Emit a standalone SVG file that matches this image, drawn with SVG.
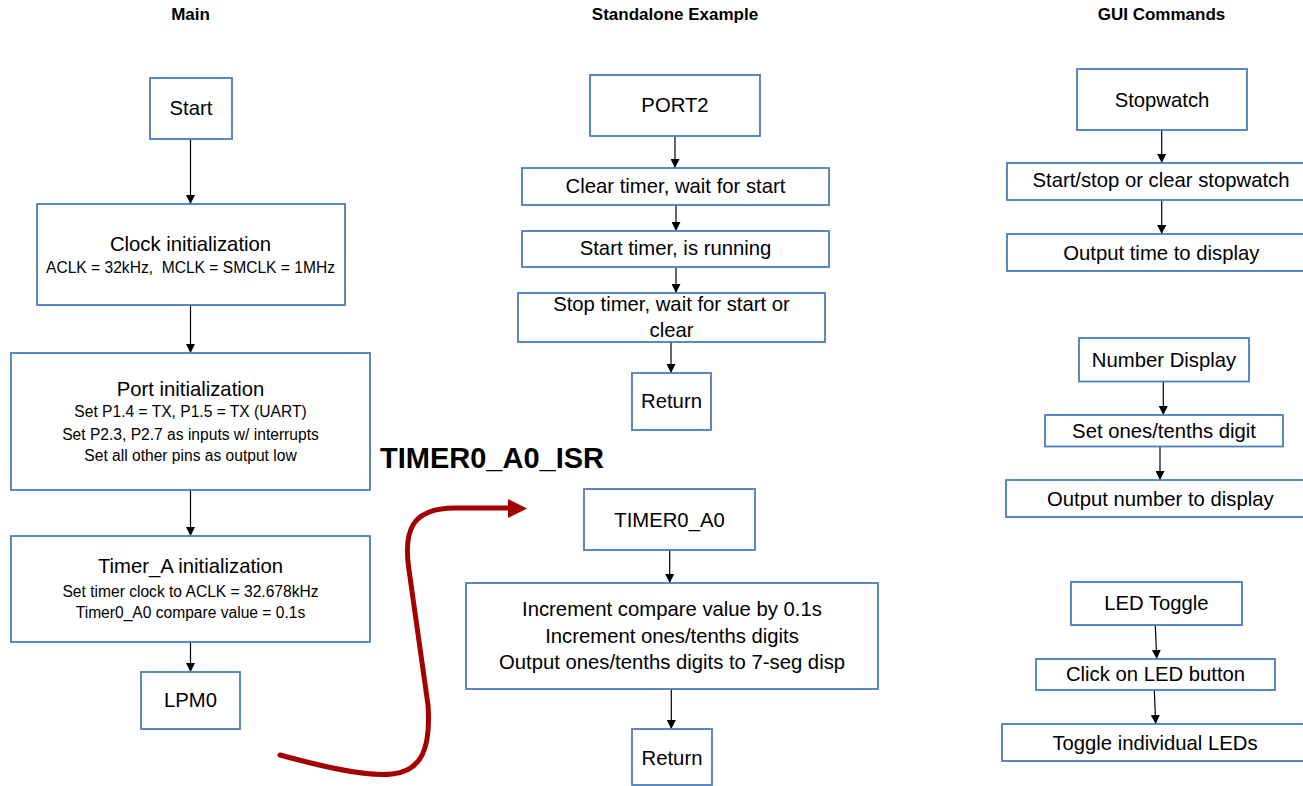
<svg xmlns="http://www.w3.org/2000/svg" width="1303" height="786" viewBox="0 0 1303 786">
<defs>
<style>
.box{fill:#fff;stroke:#4a7ebb;stroke-width:1.8}
.t{font-family:"Liberation Sans",Arial,sans-serif;font-size:20.3px;fill:#000;text-anchor:middle}
.s{font-family:"Liberation Sans",Arial,sans-serif;font-size:15.6px;fill:#000;text-anchor:middle;white-space:pre}
.h{font-family:"Liberation Sans",Arial,sans-serif;font-size:17px;font-weight:bold;fill:#000;text-anchor:middle}
.conn{stroke:#000;stroke-width:1.2;fill:none;marker-end:url(#ah)}
</style>
<marker id="ah" viewBox="0 0 10 10" refX="10" refY="5" markerWidth="9" markerHeight="9" markerUnits="userSpaceOnUse" orient="auto">
<path d="M0,0 L10,5 L0,10 z" fill="#000"/>
</marker>
</defs>
<rect width="1303" height="786" fill="#fff"/>
<text class="h" x="190.5" y="20">Main</text>
<text class="h" x="675" y="20">Standalone Example</text>
<text class="h" x="1161.5" y="20">GUI Commands</text>
<text x="380" y="468" style="font-family:'Liberation Sans',Arial,sans-serif;font-size:29px;font-weight:bold" fill="#000">TIMER0_A0_ISR</text>

<g id="connectors">
<line class="conn" x1="190.5" y1="139" x2="190.5" y2="204"/>
<line class="conn" x1="190.5" y1="305" x2="190.5" y2="353"/>
<line class="conn" x1="190.5" y1="490" x2="190.5" y2="536"/>
<line class="conn" x1="190.5" y1="642" x2="190.5" y2="672"/>
<line class="conn" x1="675" y1="136" x2="675" y2="168"/>
<line class="conn" x1="676" y1="205" x2="676" y2="231"/>
<line class="conn" x1="676" y1="267" x2="676" y2="293"/>
<line class="conn" x1="671" y1="342" x2="671" y2="373"/>
<line class="conn" x1="669.7" y1="550" x2="669.7" y2="583"/>
<line class="conn" x1="671.3" y1="689" x2="671.3" y2="729"/>
<line class="conn" x1="1161.7" y1="130" x2="1161.7" y2="163"/>
<line class="conn" x1="1161.7" y1="200" x2="1161.7" y2="234"/>
<line class="conn" x1="1163.3" y1="382" x2="1163.3" y2="415"/>
<line class="conn" x1="1160" y1="447" x2="1160" y2="480"/>
<line class="conn" x1="1155.3" y1="625" x2="1156.7" y2="659"/>
<line class="conn" x1="1154.3" y1="690" x2="1155.7" y2="724"/>
<path d="M280,755 C320,766 365,777 392,774 C422,771 431,748 428,705 L409,570 C403,530 412,508 455,508 L511,508" fill="none" stroke="#a50000" stroke-width="5" stroke-linecap="round"/>
<polygon points="508,499 527,508.5 508,518" fill="#a50000"/>
</g>

<g id="start"><rect class="box" x="150" y="78" width="82" height="61"/><text class="t" x="191" y="115">Start</text></g>
<g id="clock"><rect class="box" x="37" y="204" width="308" height="101"/><text class="t" x="190.5" y="251">Clock initialization</text><text class="s" x="190.5" y="273" xml:space="preserve">ACLK = 32kHz,  MCLK = SMCLK = 1MHz</text></g>
<g id="port"><rect class="box" x="11" y="353" width="359" height="137"/><text class="t" x="190.5" y="396">Port initialization</text><text class="s" x="190.5" y="417">Set P1.4 = TX, P1.5 = TX (UART)</text><text class="s" x="190.5" y="439.5">Set P2.3, P2.7 as inputs w/ interrupts</text><text class="s" x="190.5" y="460.5">Set all other pins as output low</text></g>
<g id="timera"><rect class="box" x="11" y="536" width="359" height="106"/><text class="t" x="190.5" y="573">Timer_A initialization</text><text class="s" x="190.5" y="596.5">Set timer clock to ACLK = 32.678kHz</text><text class="s" x="190.5" y="617.5">Timer0_A0 compare value = 0.1s</text></g>
<g id="lpm0"><rect class="box" x="141" y="672" width="99" height="57"/><text class="t" x="190.5" y="707">LPM0</text></g>

<g id="port2"><rect class="box" x="590" y="75" width="170" height="61"/><text class="t" x="675" y="112">PORT2</text></g>
<g id="clear"><rect class="box" x="522" y="168" width="307" height="37"/><text class="t" x="675.5" y="193">Clear timer, wait for start</text></g>
<g id="run"><rect class="box" x="522" y="231" width="307" height="36"/><text class="t" x="675.5" y="255">Start timer, is running</text></g>
<g id="stop"><rect class="box" x="518" y="293" width="307" height="49"/><text class="t" x="671.5" y="311">Stop timer, wait for start or</text><text class="t" x="671.5" y="336.5">clear</text></g>
<g id="ret1"><rect class="box" x="632" y="373" width="79" height="57"/><text class="t" x="671.5" y="408">Return</text></g>

<g id="timer0"><rect class="box" x="584" y="489" width="171" height="61"/><text class="t" x="669.5" y="527">TIMER0_A0</text></g>
<g id="incr"><rect class="box" x="466" y="583" width="412" height="106"/><text class="t" x="672" y="616">Increment compare value by 0.1s</text><text class="t" x="672" y="642.5">Increment ones/tenths digits</text><text class="t" x="672" y="669">Output ones/tenths digits to 7-seg disp</text></g>
<g id="ret2"><rect class="box" x="632" y="729" width="80" height="56"/><text class="t" x="672" y="765">Return</text></g>

<g id="stopwatch"><rect class="box" x="1077" y="69" width="170" height="61"/><text class="t" x="1162" y="107">Stopwatch</text></g>
<g id="ssc"><rect class="box" x="1007" y="163" width="310" height="37"/><text class="t" x="1161" y="187">Start/stop or clear stopwatch</text></g>
<g id="otd"><rect class="box" x="1007" y="234" width="310" height="37"/><text class="t" x="1161.3" y="260">Output time to display</text></g>
<g id="numdisp"><rect class="box" x="1079" y="338" width="170" height="43.5"/><text class="t" x="1164" y="367">Number Display</text></g>
<g id="setones"><rect class="box" x="1045" y="415" width="238" height="31.5"/><text class="t" x="1164" y="438">Set ones/tenths digit</text></g>
<g id="ond"><rect class="box" x="1006" y="480" width="310" height="37"/><text class="t" x="1160.3" y="506">Output number to display</text></g>
<g id="ledtoggle"><rect class="box" x="1071" y="582" width="171" height="43"/><text class="t" x="1156.4" y="609.5">LED Toggle</text></g>
<g id="click"><rect class="box" x="1036" y="659" width="239" height="31"/><text class="t" x="1155.5" y="681">Click on LED button</text></g>
<g id="toggleind"><rect class="box" x="1002" y="724" width="314" height="37"/><text class="t" x="1155" y="750">Toggle individual LEDs</text></g>
</svg>
